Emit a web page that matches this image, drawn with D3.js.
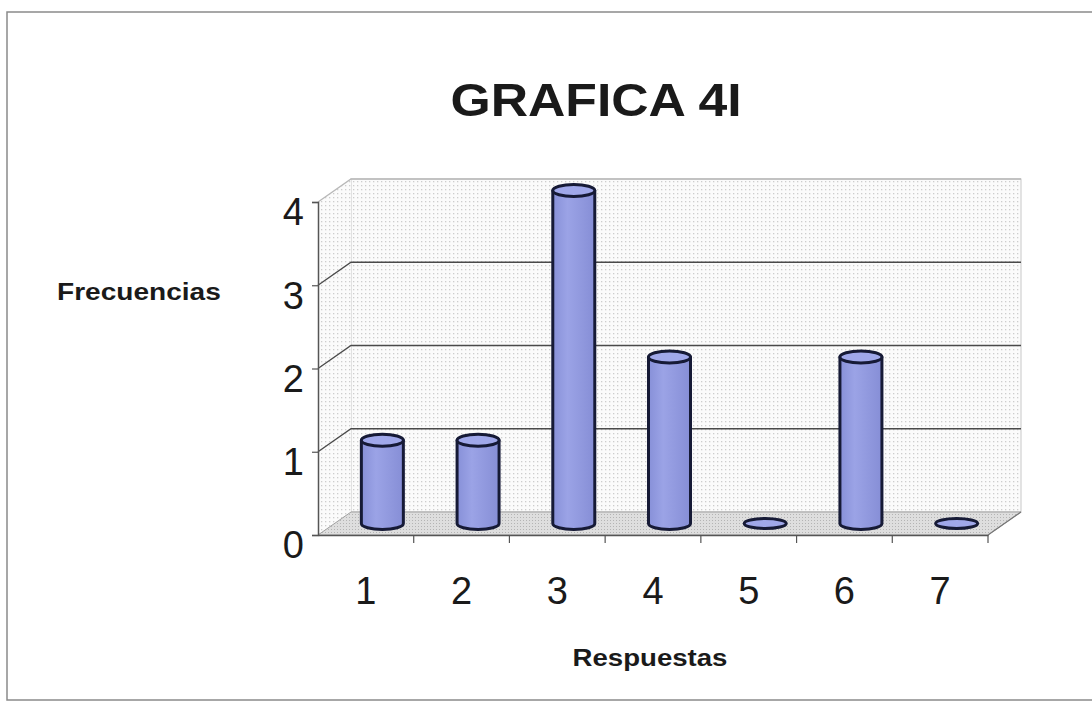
<!DOCTYPE html>
<html>
<head>
<meta charset="utf-8">
<script src="https://cdn.jsdelivr.net/npm/d3@7"></script>
<style>
  body { margin: 0; background: #fff; }
  text { font-family: "Liberation Sans", Arial, sans-serif; fill: #1a1a1a; }
</style>
</head>
<body>
<svg id="chart" width="1092" height="705"></svg>
<script>
// chart data
const categories = ['1', '2', '3', '4', '5', '6', '7'];
const frecuencias = [1, 1, 4, 2, 0, 2, 0];
const yTicks = [0, 1, 2, 3, 4];

const titleText = 'GRAFICA 4I';
const yTitle = 'Frecuencias';
const xTitle = 'Respuestas';

const svg = d3.select('#chart');

// fake 3d depth of the Excel-like chart
const depth = { dx: 33, dy: -23 };

const x = d3.scaleBand()
  .domain(categories)
  .range([318, 988])
  .padding(0);

const y = d3.scaleLinear()
  .domain([0, 4])
  .range([535, 202]);

const defs = svg.append('defs');

const dots = defs.append('pattern')
  .attr('id', 'dots')
  .attr('width', 4)
  .attr('height', 4)
  .attr('patternUnits', 'userSpaceOnUse');
dots.append('rect').attr('width', 4).attr('height', 4).attr('fill', '#fbfbfb');
dots.append('rect').attr('x', 1).attr('y', 1).attr('width', 1.3).attr('height', 1.3).attr('fill', '#cdcdcd');

const floorDots = defs.append('pattern')
  .attr('id', 'floorDots')
  .attr('width', 3)
  .attr('height', 3)
  .attr('patternUnits', 'userSpaceOnUse');
floorDots.append('rect').attr('width', 3).attr('height', 3).attr('fill', '#dedede');
floorDots.append('rect').attr('x', 1).attr('y', 1).attr('width', 1).attr('height', 1).attr('fill', '#b4b4b4');

const grad = defs.append('linearGradient')
  .attr('id', 'cyl')
  .attr('x1', '0%').attr('x2', '100%');
grad.append('stop').attr('offset', '0%').attr('stop-color', '#8790d8');
grad.append('stop').attr('offset', '35%').attr('stop-color', '#9ba3e6');
grad.append('stop').attr('offset', '100%').attr('stop-color', '#868ed6');

// outer frame
svg.append('rect')
  .attr('x', 7).attr('y', 12)
  .attr('width', 1092).attr('height', 688)
  .attr('fill', 'none')
  .attr('stroke', '#8a8a8a')
  .attr('stroke-width', 1.5);

const x0 = x.range()[0];
const x1 = x.range()[1];
const yBase = y(0);
const yTop = y(4);

// back wall
svg.append('rect')
  .attr('x', x0 + depth.dx)
  .attr('y', yTop + depth.dy)
  .attr('width', x1 - x0)
  .attr('height', yBase - yTop)
  .attr('fill', 'url(#dots)')
  .attr('stroke', '#c8c8c8')
  .attr('stroke-width', 1);

// side wall
svg.append('polygon')
  .attr('points', [
    [x0, yTop], [x0 + depth.dx, yTop + depth.dy],
    [x0 + depth.dx, yBase + depth.dy], [x0, yBase]
  ].map(p => p.join(',')).join(' '))
  .attr('fill', 'url(#dots)')
  .attr('stroke', 'none');

// floor
svg.append('polygon')
  .attr('points', [
    [x0, yBase], [x0 + depth.dx, yBase + depth.dy],
    [x1 + depth.dx, yBase + depth.dy], [x1, yBase]
  ].map(p => p.join(',')).join(' '))
  .attr('fill', 'url(#floorDots)')
  .attr('stroke', '#a0a0a0')
  .attr('stroke-width', 1);

// gridlines on wall
const grid = svg.append('g');
yTicks.filter(d => d > 0).forEach(d => {
  const c = d === 4 ? '#b8b8b8' : '#4a4a4a';
  grid.append('path')
    .attr('d', `M${x0},${y(d)}L${x0 + depth.dx},${y(d) + depth.dy}L${x1 + depth.dx},${y(d) + depth.dy}`)
    .attr('fill', 'none')
    .attr('stroke', c)
    .attr('stroke-width', 1.3);
});

// y axis
const yAxis = d3.axisLeft(y)
  .tickValues(yTicks)
  .tickSize(6)
  .tickFormat(d3.format('d'));

const yg = svg.append('g')
  .attr('transform', `translate(${x0},0)`)
  .call(yAxis);
yg.select('.domain').attr('stroke', '#555').attr('stroke-width', 1.5);
yg.selectAll('.tick line').attr('stroke', '#555').attr('stroke-width', 1.2);
yg.selectAll('.tick text')
  .attr('x', -14)
  .attr('dy', '0.6em')
  .attr('font-size', 38)
  .attr('font-family', '"Liberation Sans", Arial, sans-serif')
  .attr('fill', '#1a1a1a');

// x axis, ticks on the category boundaries
const xAxis = d3.axisBottom(x).tickSize(0).tickFormat(d => d);
const xg = svg.append('g')
  .attr('transform', `translate(0,${yBase})`)
  .call(xAxis);
xg.select('.domain').attr('stroke', '#555').attr('stroke-width', 1.5);
xg.selectAll('.tick text')
  .attr('y', 42)
  .attr('dy', '0.71em')
  .attr('font-size', 38)
  .attr('font-family', '"Liberation Sans", Arial, sans-serif')
  .attr('fill', '#1a1a1a');

xg.selectAll('.sep')
  .data(categories)
  .enter()
  .append('line')
  .attr('class', 'sep')
  .attr('x1', d => x(d) + x.bandwidth())
  .attr('x2', d => x(d) + x.bandwidth())
  .attr('y1', 0)
  .attr('y2', 8)
  .attr('stroke', '#555')
  .attr('stroke-width', 1.2);

// right floor edge
svg.append('line')
  .attr('x1', x1).attr('y1', yBase)
  .attr('x2', x1 + depth.dx).attr('y2', yBase + depth.dy)
  .attr('stroke', '#777')
  .attr('stroke-width', 1.2);

// cylinders
const rx = 21;
const ry = 6;
const bars = svg.append('g')
  .selectAll('g')
  .data(categories.map((c, i) => ({ c, v: frecuencias[i] })))
  .enter()
  .append('g');

const cx = d => x(d.c) + x.bandwidth() / 2 + depth.dx / 2;
const baseY = () => y(0) + depth.dy / 2;
const topY = d => y(d.v) + depth.dy / 2;

bars.filter(d => d.v > 0)
  .append('path')
  .attr('d', d => `M${cx(d) - rx},${topY(d)}L${cx(d) - rx},${baseY()}` +
    `A${rx},${ry} 0 0 0 ${cx(d) + rx},${baseY()}L${cx(d) + rx},${topY(d)}Z`)
  .attr('fill', 'url(#cyl)')
  .attr('stroke', '#161a36')
  .attr('stroke-width', 3)
  .attr('stroke-linejoin', 'round');

bars.append('ellipse')
  .attr('cx', cx)
  .attr('cy', topY)
  .attr('rx', rx)
  .attr('ry', d => d.v > 0 ? ry : 5)
  .attr('fill', '#a0a8ea')
  .attr('stroke', '#161a36')
  .attr('stroke-width', 3);

// titles, the scan is a little wider than the font
const label = (txt, px, py, size, sx, anchor) => svg.append('text')
  .attr('transform', `translate(${px},${py}) scale(${sx},1)`)
  .attr('text-anchor', anchor)
  .attr('font-size', size)
  .attr('font-weight', 'bold')
  .text(txt);

label(titleText, 596, 116, 47, 1.1, 'middle');
label(yTitle, 57, 300, 24, 1.17, 'start');
label(xTitle, 650, 666, 24, 1.15, 'middle');
</script>
</body>
</html>
